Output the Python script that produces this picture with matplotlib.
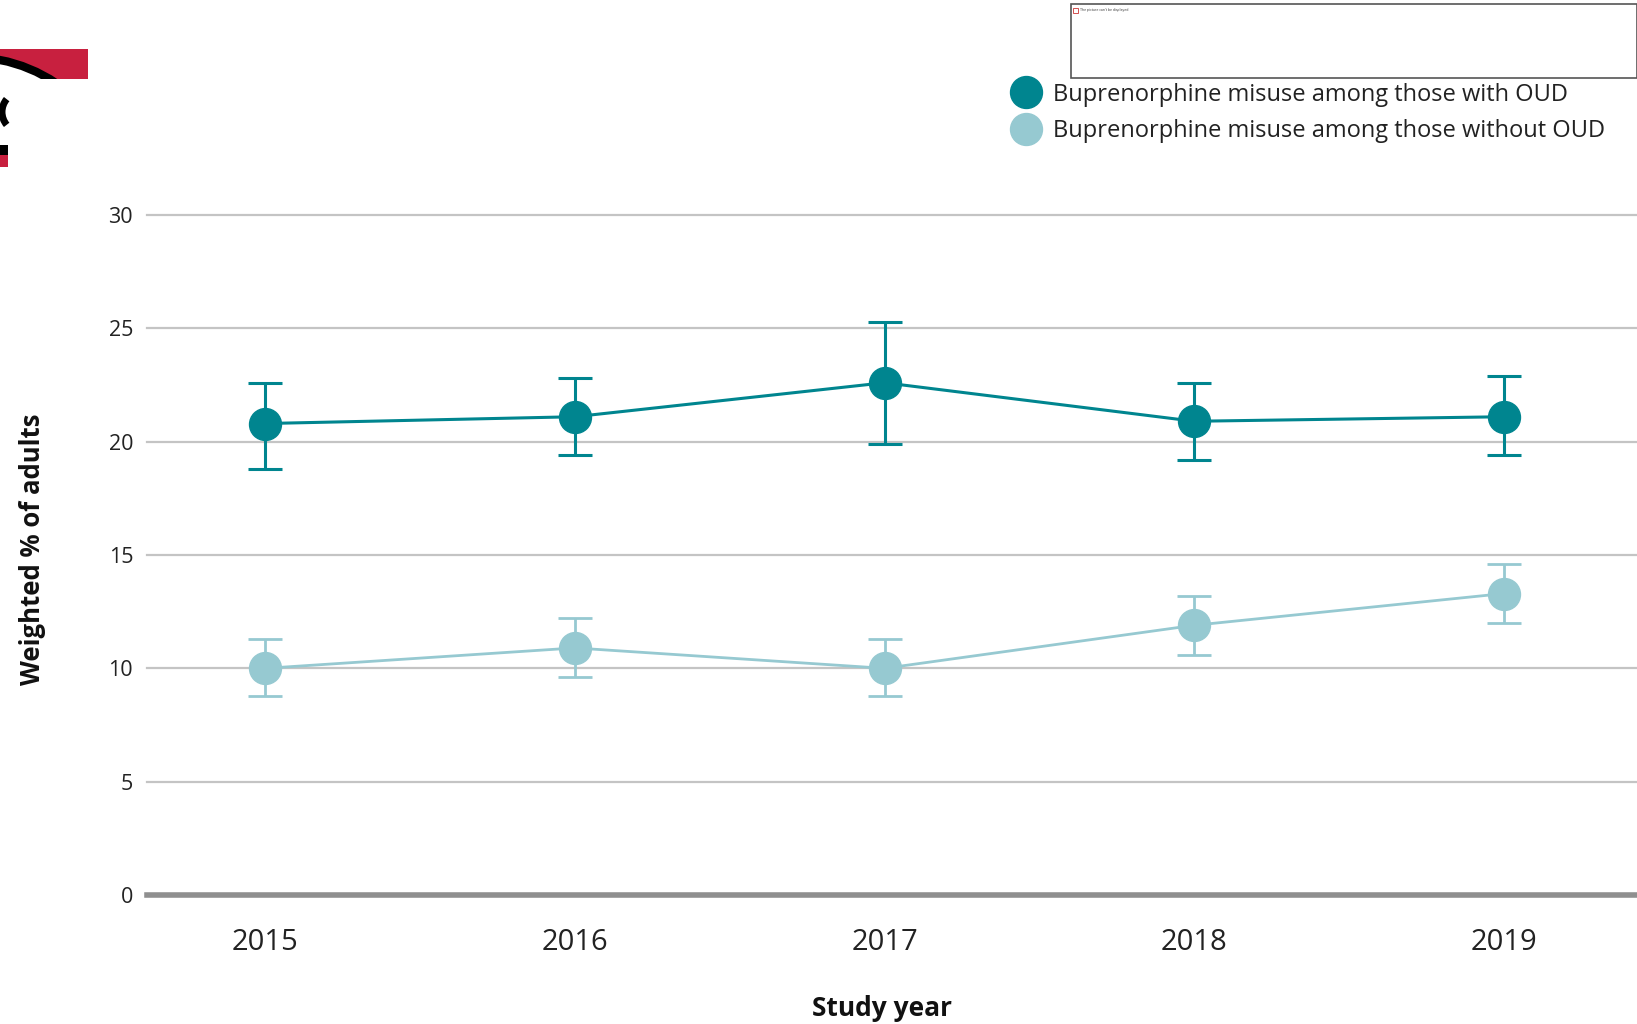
import matplotlib.pyplot as plt
from matplotlib.lines import Line2D
from matplotlib.patches import Rectangle, Circle, Arc

plt.rcParams['font.family'] = ['Open Sans', 'DejaVu Sans']

# data (weighted % with 95% CI bounds)
years = [2015, 2016, 2017, 2018, 2019]
with_oud = [20.8, 21.1, 22.6, 20.9, 21.1]
with_oud_lo = [18.8, 19.4, 19.9, 19.2, 19.4]
with_oud_hi = [22.6, 22.8, 25.3, 22.6, 22.9]
without_oud = [10.0, 10.9, 10.0, 11.9, 13.3]
without_oud_lo = [8.8, 9.6, 8.8, 10.6, 12.0]
without_oud_hi = [11.3, 12.2, 11.3, 13.2, 14.6]
labels = ['Buprenorphine misuse among those with OUD',
          'Buprenorphine misuse among those without OUD']

dark = '#00858f'
light = '#96c9d1'

W, H = 1637, 1024
fig = plt.figure(figsize=(W / 100, H / 100), dpi=100)
ax = fig.add_axes([147 / W, 1 - 895 / H, 1 - 147 / W, (895 - 215) / H])


def px(x, y):
    return (x / W, 1 - y / H)


def err(v, lo, hi):
    return [[a - b for a, b in zip(v, lo)], [b - a for a, b in zip(v, hi)]]


ax.errorbar(years, with_oud, yerr=err(with_oud, with_oud_lo, with_oud_hi),
            color=dark, lw=2.2, marker='o', ms=23, capsize=12, capthick=2.2,
            elinewidth=2.2, zorder=4, clip_on=False)
ax.errorbar(years, without_oud, yerr=err(without_oud, without_oud_lo, without_oud_hi),
            color=light, lw=2.0, marker='o', ms=23, capsize=12, capthick=2.0,
            elinewidth=2.0, zorder=3, clip_on=False)

ax.set_xlim(2014.619, 2019.429)
ax.set_ylim(0, 30)
ax.set_yticks(range(0, 31, 5))
ax.set_xticks(years)
for v in range(5, 31, 5):
    ax.axhline(v, color='#c4c4c4', lw=1.6, zorder=1, clip_on=False)
ax.axhline(0, color='#8f8f8f', lw=4, zorder=2, clip_on=False)
for s in ax.spines.values():
    s.set_visible(False)
ax.tick_params(axis='y', length=0, pad=10, labelsize=15.5, labelcolor='#222222')
ax.tick_params(axis='x', length=0, pad=24, labelsize=21, labelcolor='#222222')

fig.text(33 / W, 1 - 549 / H, 'Weighted % of adults', rotation=90, ha='center',
         va='center', fontsize=18.5, fontweight='bold', color='#111111')
fig.text(882 / W, 1 - 1008 / H, 'Study year', ha='center', va='center',
         fontsize=19, fontweight='bold', color='#111111')

handles = [Line2D([], [], marker='o', ls='none', color=c, ms=23) for c in (dark, light)]
fig.legend(handles, labels, loc='center left', bbox_to_anchor=px(1000, 113),
           frameon=False, fontsize=17, handletextpad=0.55, labelspacing=0.55,
           borderpad=0, handlelength=1.2, labelcolor='#222222')

# logo fragment at top left
red = Rectangle(px(0, 79), 88 / W, 30 / H, transform=fig.transFigure,
                color='#c8203f', lw=0)
fig.add_artist(red)
circ = Circle((-30, H - 212), 155, transform=None, facecolor='white',
              edgecolor='black', lw=6)
fig.add_artist(circ)
circ.set_clip_path(red)
fig.add_artist(Rectangle(px(0, 167), 8 / W, 22 / H, transform=fig.transFigure,
                         color='#c8203f', lw=0))
fig.add_artist(Rectangle(px(0, 155), 8 / W, 10 / H, transform=fig.transFigure,
                         color='black', lw=0))
fig.add_artist(Arc((22, H - 112), 40, 40, theta1=140, theta2=220, transform=None,
                   color='black', lw=5))

# broken picture placeholder at top right
fig.add_artist(Rectangle(px(1071, 78), (W - 1071) / W, 74 / H, transform=fig.transFigure,
                         facecolor='white', edgecolor='#555555', lw=1.2))
fig.add_artist(Rectangle(px(1073, 13), 5 / W, 5 / H, transform=fig.transFigure,
                         facecolor='white', edgecolor='#cc3333', lw=0.6))
fig.text(1080 / W, 1 - 10 / H, "The picture can't be displayed.", fontsize=2.5,
         va='center', color='#333333')

fig.savefig('out.png', dpi=100)
